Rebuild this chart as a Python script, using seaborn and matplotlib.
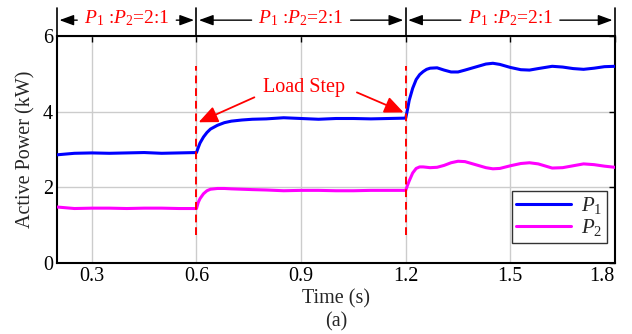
import matplotlib
matplotlib.use('Agg')
import matplotlib.pyplot as plt
import matplotlib.transforms as mtransforms
import pandas as pd
import seaborn as sns

# ── Data ──
time_s = [0.2, 0.25, 0.3, 0.35, 0.4, 0.45, 0.5, 0.55, 0.6,
          0.605, 0.61, 0.62, 0.63, 0.64, 0.66, 0.68, 0.7, 0.73, 0.76,
          0.8, 0.85, 0.9, 0.95, 1.0, 1.05, 1.1, 1.15, 1.2,
          1.205, 1.21, 1.22, 1.23, 1.24, 1.25, 1.26, 1.27, 1.29, 1.31,
          1.33, 1.35, 1.37, 1.4, 1.43, 1.45, 1.47, 1.5, 1.53, 1.555,
          1.58, 1.62, 1.65, 1.68, 1.71, 1.74, 1.77, 1.8]

p1_kw = [2.86, 2.90, 2.91, 2.90, 2.91, 2.92, 2.90, 2.91, 2.92,
         3.05, 3.17, 3.33, 3.45, 3.54, 3.64, 3.71, 3.75, 3.78, 3.80,
         3.81, 3.84, 3.82, 3.80, 3.82, 3.82, 3.81, 3.82, 3.83,
         4.05, 4.30, 4.62, 4.85, 4.98, 5.06, 5.12, 5.15, 5.16, 5.10,
         5.05, 5.05, 5.10, 5.18, 5.26, 5.28, 5.25, 5.17, 5.11, 5.10,
         5.14, 5.20, 5.18, 5.14, 5.12, 5.15, 5.19, 5.20]

p2_kw = [1.48, 1.44, 1.45, 1.45, 1.44, 1.45, 1.45, 1.44, 1.44,
         1.60, 1.70, 1.83, 1.91, 1.95, 1.97, 1.97, 1.96, 1.95, 1.94,
         1.93, 1.91, 1.92, 1.92, 1.91, 1.91, 1.92, 1.92, 1.92,
         2.05, 2.17, 2.38, 2.50, 2.54, 2.54, 2.53, 2.52, 2.53, 2.58,
         2.65, 2.69, 2.68, 2.60, 2.52, 2.49, 2.50, 2.57, 2.63, 2.65,
         2.62, 2.51, 2.52, 2.57, 2.62, 2.60, 2.56, 2.53]

step_times = [0.6, 1.2]
segments = [(0.2, 0.6), (0.6, 1.2), (1.2, 1.8)]
ratio_label = r'$P_1$ :$P_2$=2:1'

sns.set_theme(style='white')
plt.rcParams.update({
    'font.family': 'Liberation Serif',
    'mathtext.fontset': 'custom',
    'mathtext.rm': 'Liberation Serif',
    'mathtext.it': 'Liberation Serif:italic',
    'font.size': 14.5,
})
FS = 14.5

df = pd.DataFrame({'t': time_s * 2,
                   'P': p1_kw + p2_kw,
                   'series': ['$P_1$'] * len(time_s) + ['$P_2$'] * len(time_s)})

fig = plt.figure(figsize=(6.32, 3.34), dpi=100)
ax = fig.add_axes([0.0902, 0.2126, 0.8828, 0.6795])

sns.lineplot(data=df, x='t', y='P', hue='series', ax=ax,
             palette={'$P_1$': '#0000ff', '$P_2$': '#ff00ff'},
             linewidth=2.2, zorder=3)

ax.set_xlim(0.2, 1.8)
ax.set_ylim(0, 6)
ax.set_xticks([0.3, 0.6, 0.9, 1.2, 1.5, 1.8])
ax.set_xticklabels(['0.3', '0.6', '0.9', '1.2', '1.5', '1.8'])
ax.set_yticks([0, 2, 4, 6])
ax.grid(True, color='#cccccc', linewidth=1)
ax.tick_params(direction='in', length=4, width=1, top=True, right=True,
               labelsize=FS, colors='black', pad=3)
for lab in ax.get_xticklabels()[-1:]:
    lab.set_ha('right')
for s in ax.spines.values():
    s.set_linewidth(1.5)
    s.set_color('black')

ax.set_xlabel('Time (s)\n(a)', fontsize=FS, labelpad=2, linespacing=1.25)
ax.set_ylabel('Active Power (kW)', fontsize=FS, labelpad=5)

# load step markers
for ts in step_times:
    ax.plot([ts, ts], [0.75, 5.2], color='red', linestyle=(0, (4, 2.5)),
            linewidth=1.4, zorder=4)

ax.text(0.909, 4.64, 'Load Step', color='red', ha='center', va='center', fontsize=FS)
arrow = dict(arrowstyle='-|>,head_length=0.8,head_width=0.35', color='red', lw=1.3,
             shrinkA=0, shrinkB=0)
ax.annotate('', xy=(0.606, 3.72), xytext=(0.766, 4.38), arrowprops=arrow)
ax.annotate('', xy=(1.194, 3.98), xytext=(1.06, 4.51), arrowprops=arrow)

# ratio band above the axes
trans = mtransforms.blended_transform_factory(ax.transData, ax.transAxes)
for x in [0.2, 0.6, 1.2, 1.8]:
    ax.plot([x, x], [1.0, 1.123], color='black', linewidth=1.2,
            transform=trans, clip_on=False)
barrow = dict(arrowstyle='-|>,head_length=0.6,head_width=0.22', color='black', lw=1.0,
              shrinkA=0, shrinkB=0)
for lo, hi in segments:
    mid = (lo + hi) / 2
    ax.text(mid, 1.078, ratio_label, color='red', ha='center', va='center',
            fontsize=14, transform=trans)
    ax.annotate('', xy=(lo + 0.007, 1.07), xytext=(mid - 0.142, 1.07),
                xycoords=trans, textcoords=trans, arrowprops=barrow)
    ax.annotate('', xy=(hi - 0.007, 1.07), xytext=(mid + 0.142, 1.07),
                xycoords=trans, textcoords=trans, arrowprops=barrow)

leg = ax.legend(loc='lower right', bbox_to_anchor=(0.985, 0.09), fontsize=15,
                frameon=True, fancybox=False, handlelength=2.6, borderpad=0.2,
                labelspacing=0.05, handletextpad=0.5, borderaxespad=0)
leg.get_frame().set_edgecolor('black')
leg.get_frame().set_linewidth(1)
leg.set_zorder(5)

fig.savefig('out.png', dpi=100, facecolor='white')
